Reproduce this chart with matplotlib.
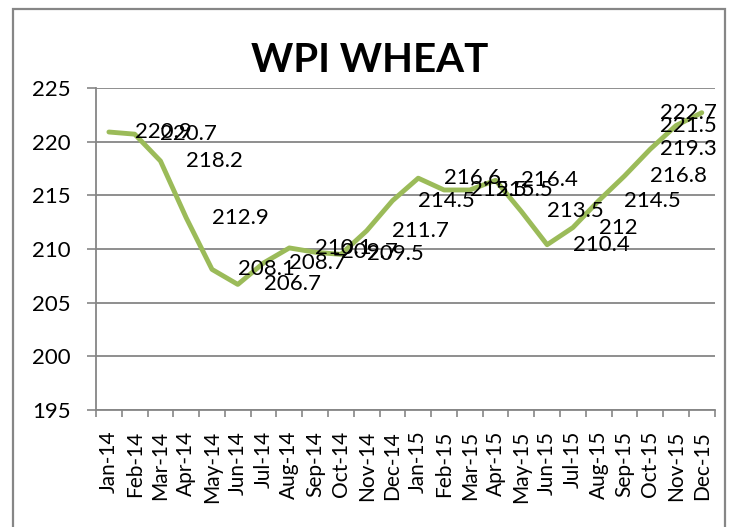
import numpy as np
import matplotlib; matplotlib.use("Agg")
import matplotlib.pyplot as plt
from matplotlib.patches import Rectangle

MONTHS = ["Jan-14", "Feb-14", "Mar-14", "Apr-14", "May-14", "Jun-14", "Jul-14", "Aug-14",
          "Sep-14", "Oct-14", "Nov-14", "Dec-14", "Jan-15", "Feb-15", "Mar-15", "Apr-15",
          "May-15", "Jun-15", "Jul-15", "Aug-15", "Sep-15", "Oct-15", "Nov-15", "Dec-15"]
WPI = [220.9, 220.7, 218.2, 212.9, 208.1, 206.7, 208.7, 210.1, 209.7, 209.5, 211.7, 214.5,
       216.6, 215.5, 215.5, 216.4, 213.5, 210.4, 212, 214.5, 216.8, 219.3, 221.5, 222.7]
LABELS = ["220.9", "220.7", "218.2", "212.9", "208.1", "206.7", "208.7", "210.1", "209.7",
          "209.5", "211.7", "214.5", "216.6", "215.5", "215.5", "216.4", "213.5", "210.4",
          "212", "214.5", "216.8", "219.3", "221.5", "222.7"]
YTICKS = [195, 200, 205, 210, 215, 220, 225]

GRAY = "#868686"
plt.rcParams["font.family"] = ["Lato", "DejaVu Sans"]

fig = plt.figure(figsize=(7.33, 5.27), dpi=100)
ax = fig.add_axes([0.131, 0.222, 0.844, 0.611])

x = np.arange(len(MONTHS))
ax.plot(x, WPI, color="#9BBB59", lw=3.5, solid_capstyle="round", zorder=3)

# data labels: left edge at next category, pushed back inside at the right end
xmax = len(MONTHS) - 0.43
for i, (v, s) in enumerate(zip(WPI, LABELS)):
    if i + 1 + 2.3 > xmax:
        ax.text(xmax, v, s, ha="right", va="center", fontsize=16, zorder=4)
    else:
        ax.text(i + 1, v, s, ha="left", va="center", fontsize=16, zorder=4)

ax.set_xlim(-0.5, len(MONTHS) - 0.5)
ax.set_ylim(195, 225)
ax.set_yticks(YTICKS)
ax.set_yticklabels([str(t) for t in YTICKS], fontsize=16)
ax.set_xticks(x)
ax.set_xticklabels(MONTHS, rotation=90, fontsize=15)
ax.set_xticks(np.arange(len(MONTHS) + 1) - 0.5, minor=True)
ax.tick_params(axis="x", which="major", length=0, pad=15)
ax.tick_params(axis="x", which="minor", length=5, width=1.2, color=GRAY, direction="out")
ax.tick_params(axis="y", length=6.5, width=1.2, color=GRAY, pad=12)
ax.yaxis.grid(True, color=GRAY, lw=1.3)
ax.set_axisbelow(True)
for side in ["top", "right"]:
    ax.spines[side].set_visible(False)
for side in ["left", "bottom"]:
    ax.spines[side].set_color(GRAY); ax.spines[side].set_linewidth(1.3)

fig.text(0.505, 0.885, "WPI WHEAT", ha="center", va="center", fontsize=29, fontweight="bold")
fig.patches.append(Rectangle((0.0177, -0.02), 0.971, 1.003, transform=fig.transFigure,
                             fill=False, edgecolor=GRAY, lw=1.6))

fig.savefig("out.png", dpi=100)
